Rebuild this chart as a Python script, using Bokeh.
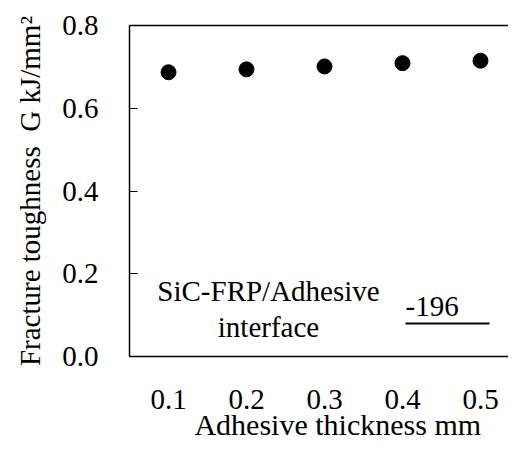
from bokeh.plotting import figure
from bokeh.models import Label, LinearAxis, FixedTicker, Range1d, PrintfTickFormatter
from bokeh.embed import file_html
from bokeh.resources import INLINE

# ---- data ----
thickness = [0.1, 0.2, 0.3, 0.4, 0.5]
toughness = [0.687, 0.694, 0.701, 0.709, 0.715]
y_ticks = [0.0, 0.2, 0.4, 0.6, 0.8]
x_ticks = [0.1, 0.2, 0.3, 0.4, 0.5]
x_title = "Adhesive thickness mm"
y_title = "Fracture toughness \u00a0G kJ/mm\u00b2"
note_lines = ["SiC-FRP/Adhesive", "interface"]
series_label = "-196"

# ---- layout ----
W, H = 508, 444
FL, FT, FW, FH = 129, 25, 379, 331
X0, X1 = 0.05, 0.05 + FW / 780.0
Y0, Y1 = 0.0, 0.8
FONT = "Liberation Serif"
FS = "29px"
LABEL_DY = -12   # correction of label baseline placement (pixels)

def dx(ix):
    return X0 + (ix - FL) / FW * (X1 - X0)

def dy(iy):
    return Y1 - (iy - FT) / FH * (Y1 - Y0)

p = figure(width=W, height=H, output_backend="svg", toolbar_location=None,
           x_range=Range1d(X0, X1), y_range=Range1d(Y0, Y1),
           min_border_left=FL, min_border_right=0, min_border_top=FT,
           min_border_bottom=H - FT - FH)
p.outline_line_color = None
p.grid.visible = False
p.background_fill_color = "white"
p.border_fill_color = "white"

p.scatter(thickness, toughness, size=15, color="black")

xa = p.xaxis[0]
xa.ticker = FixedTicker(ticks=x_ticks)
xa.major_tick_line_color = None
xa.minor_tick_line_color = None
xa.major_tick_in = 0
xa.major_tick_out = 0
xa.major_label_standoff = 33
xa.major_label_text_font = FONT
xa.major_label_text_font_size = FS
xa.major_label_text_color = "black"
xa.axis_line_width = 1.5
xa.axis_line_color = "black"
xa.axis_label = "\u00a0" * 5 + x_title
xa.axis_label_text_font = FONT
xa.axis_label_text_font_size = "30px"
xa.axis_label_text_font_style = "normal"
xa.axis_label_text_color = "black"
xa.axis_label_standoff = -4

ya = p.yaxis[0]
ya.ticker = FixedTicker(ticks=y_ticks)
ya.formatter = PrintfTickFormatter(format="%.1f")
ya.minor_tick_line_color = None
ya.major_tick_in = 8
ya.major_tick_out = 0
ya.major_tick_line_color = "black"
ya.major_tick_line_width = 1
ya.major_label_standoff = 31
ya.major_label_text_font = FONT
ya.major_label_text_font_size = FS
ya.major_label_text_color = "black"
ya.axis_line_width = 1.5
ya.axis_line_color = "black"
ya.axis_label = y_title
ya.axis_label_text_font = FONT
ya.axis_label_text_font_size = FS
ya.axis_label_text_font_style = "normal"
ya.axis_label_text_color = "black"
ya.axis_label_standoff = 13

top = LinearAxis(ticker=FixedTicker(ticks=[]), major_label_text_font_size="0px",
                 major_tick_in=0, major_tick_out=0, minor_tick_in=0, minor_tick_out=0,
                 major_label_standoff=0, axis_line_width=1.5, axis_line_color="black")
p.add_layout(top, "above")

def lab(x, y, text, size=FS, align="left"):
    p.add_layout(Label(x=x, y=y, text=text, text_align=align,
                       text_baseline="alphabetic", text_font=FONT,
                       text_font_size=size, text_color="black"))

# annotation inside the frame
lab(dx(268), dy(302 + LABEL_DY), note_lines[0], align="center")
lab(dx(268), dy(338 + LABEL_DY), note_lines[1], align="center")
lab(dx(405), dy(318 + LABEL_DY), series_label)
p.segment(x0=[dx(405)], y0=[dy(323)], x1=[dx(489)], y1=[dy(323)],
          line_color="black", line_width=2)

open("out.html", "w").write(file_html(p, INLINE))
